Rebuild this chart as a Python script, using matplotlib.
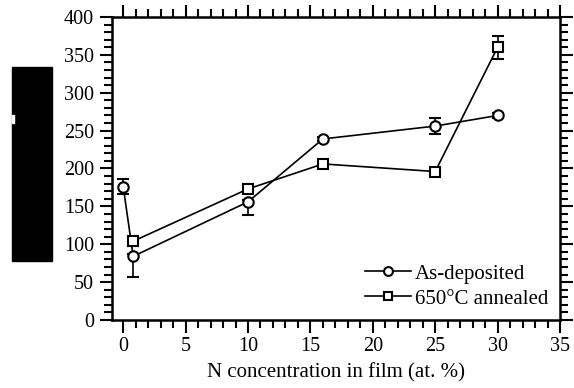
import matplotlib
matplotlib.use("Agg")
import matplotlib.pyplot as plt
from matplotlib.ticker import MultipleLocator
from matplotlib.patches import Rectangle

plt.rcParams['font.family'] = ['Liberation Serif', 'DejaVu Serif']

# as-deposited
x_dep = [0, 0.8, 10, 16, 25, 30]
y_dep = [176, 84, 156, 239, 256, 270]
err_dep_lo = [10, 27, 17, 3, 11, 3]
err_dep_hi = [10, 3, 3, 3, 11, 3]

# 650 C annealed
x_ann = [0.8, 10, 16, 25, 30]
y_ann = [104, 173, 206, 196, 360]
err_ann = [6, 5, 3, 4, 15]

fig = plt.figure(figsize=(5.74, 3.88), dpi=100)
ax = fig.add_axes([0.1951, 0.1753, 0.7805, 0.7809])

ax.errorbar(x_dep, y_dep, yerr=[err_dep_lo, err_dep_hi], color='black', lw=1.2,
            marker='o', ms=7.5, mfc='white', mec='black', mew=1.5,
            capsize=4, elinewidth=1.2, capthick=1.2, label='As-deposited')
ax.errorbar(x_ann, y_ann, yerr=err_ann, color='black', lw=1.2,
            marker='s', ms=7.5, mfc='white', mec='black', mew=1.5,
            capsize=4, elinewidth=1.2, capthick=1.2, label='650°C annealed')

ax.set_xlim(-0.9, 35)
ax.set_ylim(0, 400)
ax.xaxis.set_major_locator(MultipleLocator(5))
ax.xaxis.set_minor_locator(MultipleLocator(1))
ax.yaxis.set_major_locator(MultipleLocator(50))
ax.yaxis.set_minor_locator(MultipleLocator(10))
ax.tick_params(which='both', direction='out', top=True, right=True,
               width=1.5, labelsize=14.5, colors='black')
ax.tick_params(which='major', length=9)
ax.tick_params(which='minor', length=6)
ax.tick_params(axis='y', pad=4)
for s in ax.spines.values():
    s.set_linewidth(1.8)

ax.set_xlabel('N concentration in film (at. %)', fontsize=15, labelpad=5)

h, l = ax.get_legend_handles_labels()
h = [hh[0] for hh in h]
ax.legend(h, l, loc='lower right', frameon=False, fontsize=15,
          handlelength=2.2, handletextpad=0.2, labelspacing=0.25,
          borderaxespad=0.15, markerscale=0.85)

# redacted y label block
fig.patches.append(Rectangle((12 / 574, 1 - 261 / 388), 40 / 574, 194 / 388,
                             transform=fig.transFigure, color='black'))
fig.patches.append(Rectangle((12 / 574, 1 - 123 / 388), 2 / 574, 8 / 388,
                             transform=fig.transFigure, color='white'))

fig.savefig('out.png', dpi=100)
